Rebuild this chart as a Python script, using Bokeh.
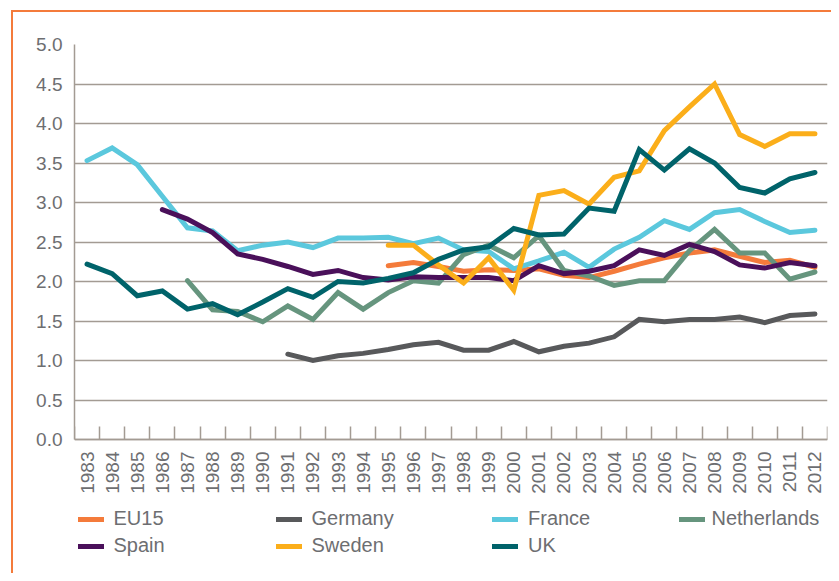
import math
from bokeh.plotting import figure
from bokeh.models import (Range1d, FixedTicker, PrintfTickFormatter, Legend, LegendItem,
                          InlineStyleSheet)
from bokeh.embed import file_html
from bokeh.resources import INLINE

# ---------------- data ----------------
years = list(range(1983, 2013))
year_labels = [str(y) for y in years]
y_ticks = [0.0, 0.5, 1.0, 1.5, 2.0, 2.5, 3.0, 3.5, 4.0, 4.5, 5.0]

eu15_start = 1995
eu15 = [2.20, 2.24, 2.19, 2.13, 2.15, 2.14, 2.16, 2.08, 2.05, 2.13, 2.22, 2.30,
        2.36, 2.40, 2.32, 2.24, 2.27, 2.18]

germany_start = 1991
germany = [1.08, 1.00, 1.06, 1.09, 1.14, 1.20, 1.23, 1.13, 1.13, 1.24, 1.11, 1.18,
           1.22, 1.30, 1.52, 1.49, 1.52, 1.52, 1.55, 1.48, 1.57, 1.59]

france_start = 1983
france = [3.53, 3.69, 3.48, 3.08, 2.68, 2.64, 2.39, 2.46, 2.50, 2.43, 2.55, 2.55,
          2.56, 2.48, 2.55, 2.40, 2.38, 2.16, 2.26, 2.37, 2.18, 2.41, 2.56, 2.77,
          2.66, 2.87, 2.91, 2.76, 2.62, 2.65]

netherlands_start = 1987
netherlands = [2.01, 1.64, 1.62, 1.49, 1.69, 1.52, 1.86, 1.65, 1.86, 2.01, 1.98,
               2.34, 2.46, 2.30, 2.58, 2.14, 2.07, 1.95, 2.01, 2.01, 2.39, 2.66,
               2.36, 2.36, 2.03, 2.12]

spain_start = 1986
spain = [2.91, 2.79, 2.62, 2.35, 2.28, 2.19, 2.09, 2.14, 2.05, 2.02, 2.06, 2.05,
         2.05, 2.05, 2.01, 2.20, 2.10, 2.13, 2.20, 2.40, 2.33, 2.47, 2.38, 2.21,
         2.17, 2.24, 2.20]

sweden_start = 1995
sweden = [2.46, 2.46, 2.21, 1.98, 2.30, 1.89, 3.09, 3.15, 2.98, 3.32, 3.40, 3.91,
          4.21, 4.50, 3.86, 3.71, 3.87, 3.87]

uk_start = 1983
uk = [2.22, 2.10, 1.82, 1.88, 1.65, 1.72, 1.58, 1.74, 1.91, 1.80, 2.00, 1.98,
      2.04, 2.11, 2.28, 2.40, 2.44, 2.67, 2.59, 2.60, 2.93, 2.89, 3.67, 3.41,
      3.68, 3.50, 3.19, 3.12, 3.30, 3.38]

series = [
    ("EU15", eu15_start, eu15, "#F47B3B"),
    ("Germany", germany_start, germany, "#58595B"),
    ("France", france_start, france, "#5BC8DD"),
    ("Netherlands", netherlands_start, netherlands, "#66957E"),
    ("Spain", spain_start, spain, "#4A105A"),
    ("Sweden", sweden_start, sweden, "#FBAE1A"),
    ("UK", uk_start, uk, "#00636A"),
]

# ---------------- layout / styling ----------------
FONT = "Liberation Sans"
TEXT = "#6D6E71"
GRID = "#A39B93"

W, H = 831, 573
FRAME_L, FRAME_T, FRAME_R, FRAME_B = 74, 44, 827, 569   # plot frame in canvas px
AXIS_Y0_PX = 439                                        # pixel row of value 0
px_per_unit = (AXIS_Y0_PX - FRAME_T) / y_ticks[-1]
y_start = -(FRAME_B - AXIS_Y0_PX) / px_per_unit          # room below 0 for labels + legend

p = figure(width=W, height=H,
           x_range=Range1d(years[0] - 0.5, years[-1] + 0.5),
           y_range=Range1d(y_start, y_ticks[-1]),
           output_backend="svg", toolbar_location=None,
           min_border_left=FRAME_L, min_border_right=W - FRAME_R,
           min_border_top=FRAME_T, min_border_bottom=H - FRAME_B)
p.outline_line_color = None
p.background_fill_color = "white"
p.border_fill_color = "white"

# orange frame (top and left edges of a box that runs off the page)
p.stylesheets = [InlineStyleSheet(css="""
:host { position: relative; }
:host::after {
  content: ""; position: absolute; left: 11px; top: 10px; right: 0; bottom: 0;
  border-top: 2px solid #F47B3B; border-left: 2px solid #F47B3B;
  pointer-events: none; box-sizing: border-box;
}
""")]

# y axis
p.yaxis.ticker = FixedTicker(ticks=y_ticks)
p.yaxis.bounds = (y_ticks[0], y_ticks[-1])
p.yaxis.formatter = PrintfTickFormatter(format="%.1f")
p.yaxis.major_tick_in = 0
p.yaxis.major_tick_out = 0
p.yaxis.minor_tick_in = 0
p.yaxis.minor_tick_out = 0
p.yaxis.axis_line_color = GRID
p.yaxis.axis_line_width = 1.5
p.yaxis.major_label_standoff = 12
p.yaxis.major_label_text_font = FONT
p.yaxis.major_label_text_font_size = "19px"
p.yaxis.major_label_text_color = TEXT

# x axis: sits at value 0; labels at category centres, tick marks at boundaries
p.xaxis.fixed_location = 0
p.xaxis.ticker = FixedTicker(ticks=years,
                             minor_ticks=[y + 0.5 for y in [years[0] - 1] + years])
p.xaxis.major_label_overrides = {y: s for y, s in zip(years, year_labels)}
p.xaxis.major_tick_in = 0
p.xaxis.major_tick_out = 0
p.xaxis.minor_tick_in = 13
p.xaxis.minor_tick_out = 0
p.xaxis.minor_tick_line_color = GRID
p.xaxis.minor_tick_line_width = 1.5
p.xaxis.axis_line_color = GRID
p.xaxis.axis_line_width = 1.5
p.xaxis.major_label_orientation = math.pi / 2
p.xaxis.major_label_standoff = 12
p.xaxis.major_label_text_font = FONT
p.xaxis.major_label_text_font_size = "19px"
p.xaxis.major_label_text_color = TEXT

p.xgrid.grid_line_color = None
p.ygrid.ticker = FixedTicker(ticks=y_ticks)
p.ygrid.grid_line_color = GRID
p.ygrid.grid_line_width = 1.5

# lines
renderers = {}
for name, start, vals, color in series:
    xs = list(range(start, start + len(vals)))
    r = p.line(xs, vals, line_color=color, line_width=5,
               line_join="miter", line_cap="round")
    renderers[name] = r

# legend: four columns, two rows, below the axis labels
def make_legend(names, vx, vy, standoff=10):
    lg = Legend(items=[LegendItem(label=n, renderers=[renderers[n]]) for n in names],
                location=(vx, vy), orientation="vertical",
                padding=0, margin=0, spacing=4,
                glyph_width=26, glyph_height=20, label_height=20,
                label_standoff=standoff,
                label_text_font=FONT, label_text_font_size="20px",
                label_text_color=TEXT, label_text_baseline="middle",
                border_line_color=None, background_fill_alpha=0)
    p.add_layout(lg, "center")

make_legend(["EU15", "Spain"], 3.5, 12)
make_legend(["Germany", "Sweden"], 201.5, 12)
make_legend(["France", "UK"], 418, 12)
make_legend(["Netherlands"], 604.5, 39, standoff=7)

open("out.html", "w").write(file_html(p, INLINE))
